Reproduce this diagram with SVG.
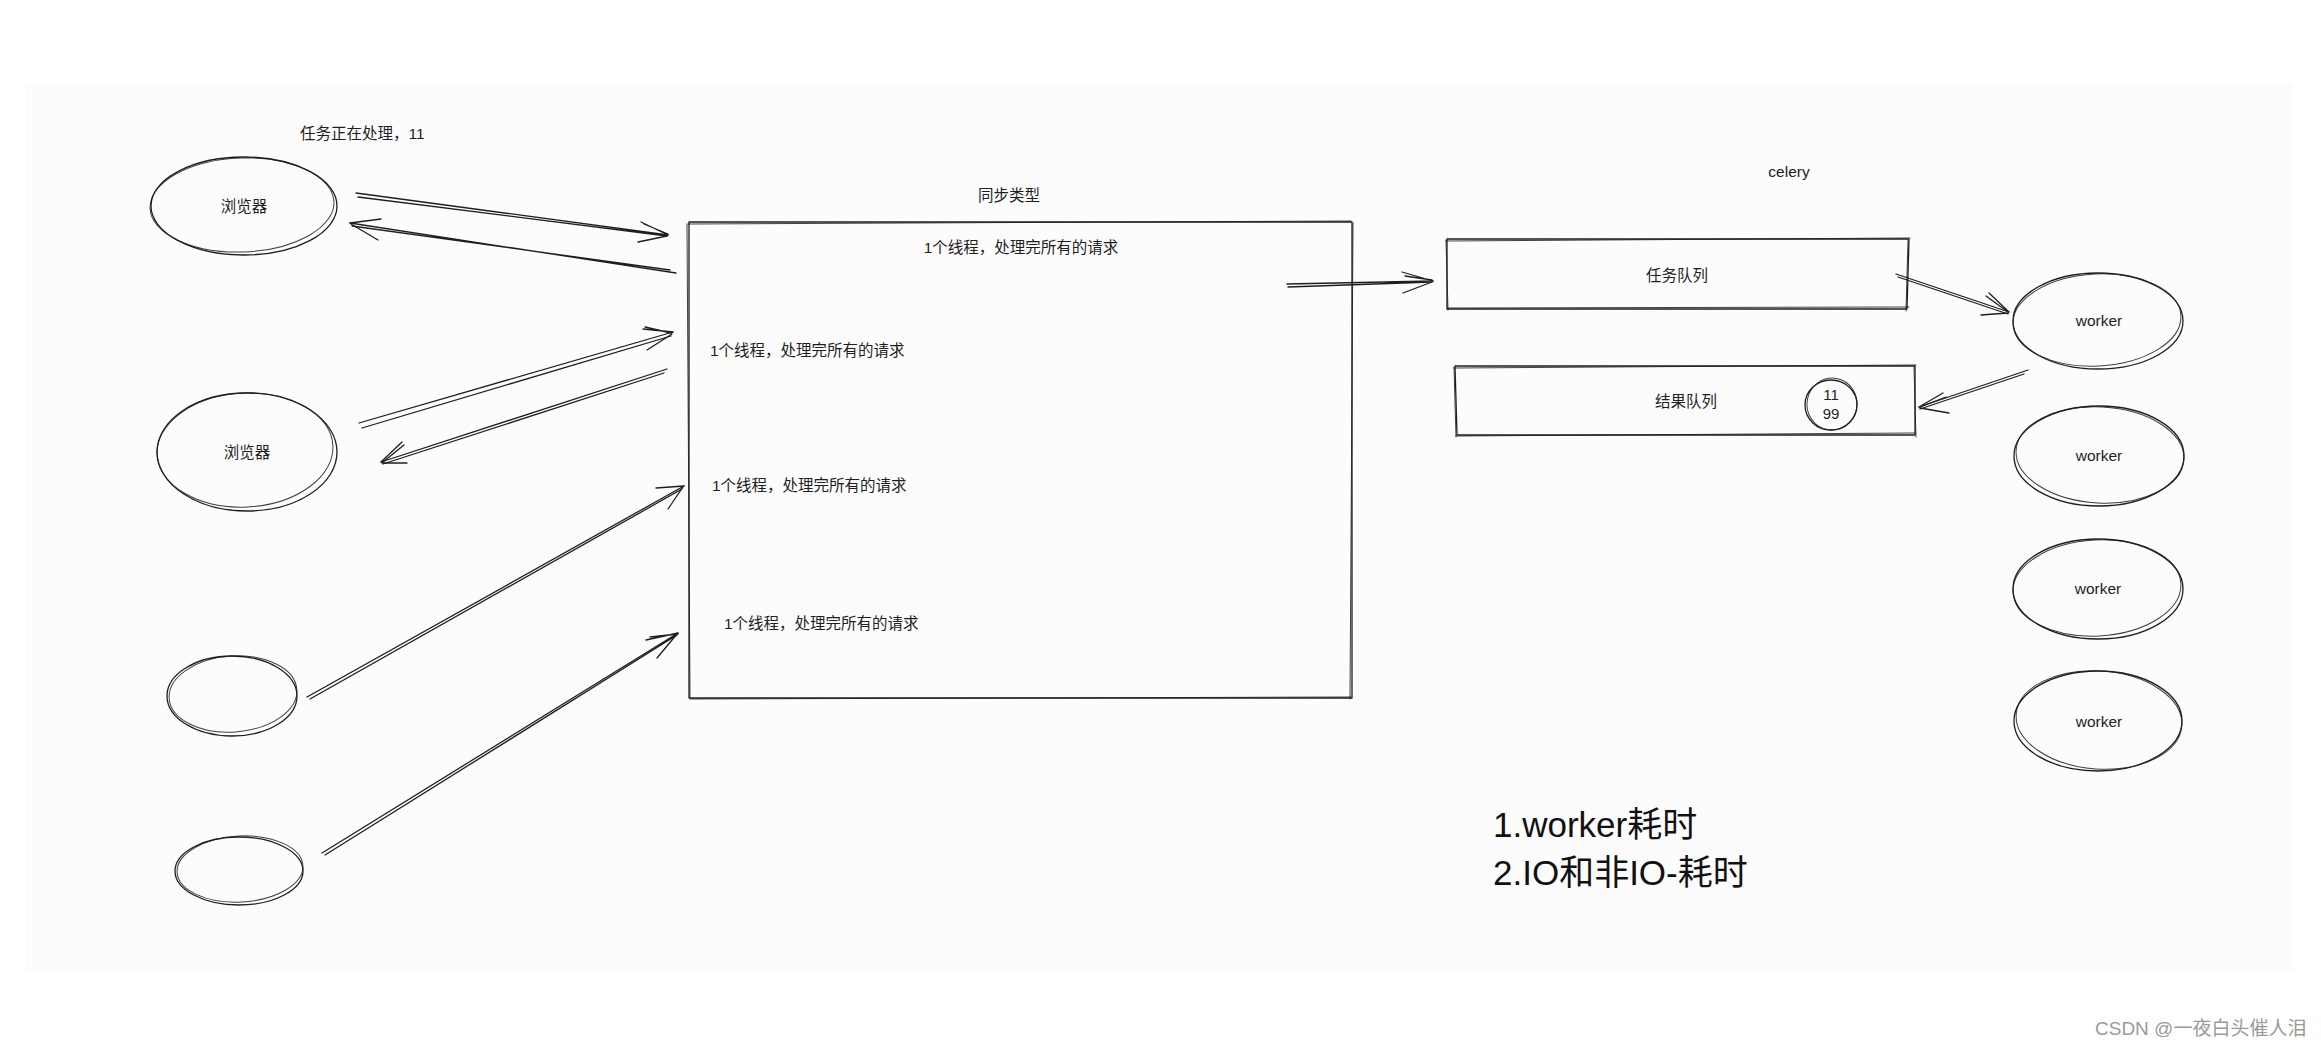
<svg xmlns="http://www.w3.org/2000/svg" width="2321" height="1047" viewBox="0 0 2321 1047">
<style>
.s{fill:none;stroke:#1e1e1e;stroke-width:1.3;stroke-linecap:round;stroke-linejoin:round}
.s2{fill:none;stroke:#1e1e1e;stroke-width:1;stroke-linecap:round;opacity:0.85}
.t{font-family:"Liberation Sans","Noto Sans CJK SC",sans-serif;font-size:15.5px;fill:#1e1e1e}
.c{text-anchor:middle}
.big{font-family:"Liberation Sans","Noto Sans CJK SC",sans-serif;font-size:35px;fill:#111}
.wm{font-family:"Liberation Sans","Noto Sans CJK SC",sans-serif;font-size:19px;fill:#9a9a9a}
</style>
<rect x="0" y="0" width="2321" height="1047" fill="#ffffff"/>
<rect x="25" y="83" width="2268" height="888" fill="#fcfcfc"/>

<g id="connectors">
  <!-- A browser1 -> server -->
  <path class="s" d="M356 193 L668 235 M358 197 L667 236"/>
  <path class="s" d="M668 235 L641 222 M667 236 L638 242 M668 234 L644 224"/>
  <!-- B server -> browser1 -->
  <path class="s" d="M676 273 L350 223 M670 270 L352 226"/>
  <path class="s" d="M350 223 L381 219 M351 224 L378 240"/>
  <!-- C browser2 -> server -->
  <path class="s" d="M359 423 L673 332 M362 428 L671 336"/>
  <path class="s" d="M673 332 L643 329 M672 334 L647 350 M671 333 L645 327"/>
  <!-- D server -> browser2 -->
  <path class="s" d="M667 369 L381 462 M664 373 L383 464"/>
  <path class="s" d="M381 462 L402 442 M382 463 L407 463 M383 462 L404 445"/>
  <!-- E client3 -> server -->
  <path class="s" d="M307 697 L684 486 M310 699 L682 489"/>
  <path class="s" d="M684 486 L656 488 M683 487 L668 509"/>
  <!-- F client4 -> server -->
  <path class="s" d="M322 853 L678 633 M325 855 L677 635"/>
  <path class="s" d="M678 633 L646 640 M677 634 L657 658 M678 634 L650 637"/>
  <!-- G server -> task queue -->
  <path class="s" d="M1287 284 L1433 281 M1288 287 L1432 282"/>
  <path class="s" d="M1433 281 L1402 272 M1432 282 L1403 293 M1432 280 L1405 276"/>
  <!-- H task queue -> worker1 -->
  <path class="s" d="M1896 274 L2009 312 M1898 277 L2008 314"/>
  <path class="s" d="M2009 312 L1989 293 M2008 313 L1981 315 M2008 312 L1986 296"/>
  <!-- I worker1 -> result queue -->
  <path class="s" d="M2028 370 L1919 407 M2024 374 L1920 409"/>
  <path class="s" d="M1919 407 L1943 393 M1920 408 L1949 413 M1920 407 L1946 397"/>
</g>

<g id="note">
  <text class="t" x="300" y="139">任务正在处理，11</text>
</g>

<g id="browser1">
  <ellipse class="s" cx="244" cy="206" rx="93" ry="49"/>
  <ellipse class="s2" cx="242" cy="205" rx="92" ry="47" transform="rotate(-2 242 205)"/>
  <text class="t c" x="244" y="212">浏览器</text>
</g>
<g id="browser2">
  <ellipse class="s" cx="247" cy="452" rx="90" ry="59"/>
  <ellipse class="s2" cx="245" cy="450" rx="88" ry="57" transform="rotate(-3 245 450)"/>
  <text class="t c" x="247" y="458">浏览器</text>
</g>
<g id="client3">
  <ellipse class="s" cx="232" cy="696" rx="65" ry="40"/>
  <ellipse class="s2" cx="233" cy="694" rx="64" ry="38" transform="rotate(-4 233 694)"/>
</g>
<g id="client4">
  <ellipse class="s" cx="239" cy="871" rx="64" ry="34"/>
  <ellipse class="s2" cx="240" cy="869" rx="63" ry="33" transform="rotate(-3 240 869)"/>
</g>

<g id="server">
  <text class="t c" x="1009" y="201">同步类型</text>
  <path class="s" d="M689 222 L1352 222 L1352 698 L689 698 Z"/>
  <path class="s2" d="M688 224 L1351 221 M1353 223 L1350 699 M1351 697 L690 699 M690 697 L687 224"/>
  <text class="t c" x="1021" y="253">1个线程，处理完所有的请求</text>
  <text class="t" x="710" y="356">1个线程，处理完所有的请求</text>
  <text class="t" x="712" y="491">1个线程，处理完所有的请求</text>
  <text class="t" x="724" y="629">1个线程，处理完所有的请求</text>
</g>

<g id="celery-label">
  <text class="t c" x="1789" y="177">celery</text>
</g>

<g id="task-queue">
  <path class="s" d="M1447 239 L1909 239 L1907 309 L1447 309 Z"/>
  <path class="s2" d="M1446 241 L1910 238 M1908 240 L1906 311 M1909 307 L1448 308 M1448 310 L1446 240"/>
  <text class="t c" x="1677" y="281">任务队列</text>
</g>

<g id="result-queue">
  <path class="s" d="M1455 366 L1915 366 L1915 435 L1457 435 Z"/>
  <path class="s2" d="M1454 368 L1916 365 M1914 367 L1916 437 M1915 433 L1456 436 M1456 437 L1454 367"/>
  <text class="t c" x="1686" y="407">结果队列</text>
  <g id="result-item">
    <ellipse class="s" cx="1831" cy="405" rx="26" ry="25"/>
    <ellipse class="s2" cx="1832" cy="404" rx="25" ry="26" transform="rotate(10 1832 404)"/>
    <text class="t c" x="1831" y="400" style="font-size:15px">11</text>
    <text class="t c" x="1831" y="419" style="font-size:15px">99</text>
  </g>
</g>

<g id="worker1">
  <ellipse class="s" cx="2098" cy="321" rx="85" ry="48"/>
  <ellipse class="s2" cx="2097" cy="320" rx="84" ry="46" transform="rotate(-3 2097 320)"/>
  <text class="t c" x="2099" y="326">worker</text>
</g>
<g id="worker2">
  <ellipse class="s" cx="2099" cy="456" rx="85" ry="50"/>
  <ellipse class="s2" cx="2100" cy="455" rx="84" ry="48" transform="rotate(3 2100 455)"/>
  <text class="t c" x="2099" y="461">worker</text>
</g>
<g id="worker3">
  <ellipse class="s" cx="2098" cy="589" rx="85" ry="50"/>
  <ellipse class="s2" cx="2097" cy="588" rx="84" ry="48" transform="rotate(-3 2097 588)"/>
  <text class="t c" x="2098" y="594">worker</text>
</g>
<g id="worker4">
  <ellipse class="s" cx="2098" cy="721" rx="84" ry="50"/>
  <ellipse class="s2" cx="2099" cy="720" rx="83" ry="49" transform="rotate(4 2099 720)"/>
  <text class="t c" x="2099" y="727">worker</text>
</g>

<g id="notes">
  <text class="big" x="1493" y="837">1.worker耗时</text>
  <text class="big" x="1493" y="885">2.IO和非IO-耗时</text>
</g>

<text class="wm" x="2095" y="1035">CSDN @一夜白头催人泪</text>
</svg>
